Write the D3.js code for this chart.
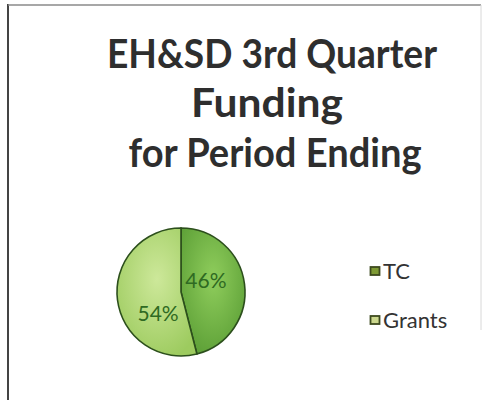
<!DOCTYPE html>
<html>
<head>
<meta charset="utf-8">
<script src="https://cdn.jsdelivr.net/npm/d3@7"></script>
<style>
  html, body { margin: 0; padding: 0; background: #ffffff; }
  svg { display: block; }
</style>
</head>
<body>
<script>
// Funding split for the quarter
const categories = ["TC", "Grants"];
const values = [46, 54];
const valueLabels = ["46%", "54%"];
const titleLines = ["EH&SD 3rd Quarter", "Funding", "for Period Ending"];

const W = 483, H = 400;
const svg = d3.select("body").append("svg").attr("width", W).attr("height", H);

const defs = svg.append("defs");
const fills = [
  { id: "gTC", inner: "#8fcd5c", outer: "#5c9f36" },
  { id: "gGr", inner: "#cde89a", outer: "#9dcb5f" }
];
fills.forEach(f => {
  const g = defs.append("radialGradient").attr("id", f.id)
    .attr("cx", "50%").attr("cy", "40%").attr("r", "65%");
  g.append("stop").attr("offset", "0%").attr("stop-color", f.inner);
  g.append("stop").attr("offset", "100%").attr("stop-color", f.outer);
});
const color = d3.scaleOrdinal().domain(categories).range(["url(#gTC)", "url(#gGr)"]);
const swatch = d3.scaleOrdinal().domain(categories).range(["#7e9a34", "#ccd88e"]);

// chart frame
svg.append("line").attr("x1", 8).attr("x2", 8).attr("y1", 4).attr("y2", H)
  .attr("stroke", "#444").attr("stroke-width", 2);
svg.append("line").attr("x1", 8).attr("x2", 481).attr("y1", 5).attr("y2", 5)
  .attr("stroke", "#8a8a8a").attr("stroke-width", 1.5);
svg.append("line").attr("x1", 481).attr("x2", 481).attr("y1", 5).attr("y2", 330)
  .attr("stroke", "#d8d8d8").attr("stroke-width", 1);

// title
const titleFont = "Lato, 'Open Sans', sans-serif";
const titleWidths = [330, 152, 293];
const titleY = [68, 117, 167];
const titleX = [272, 267, 275];
titleLines.forEach((t, i) => {
  svg.append("text")
    .attr("x", titleX[i]).attr("y", titleY[i])
    .attr("text-anchor", "middle")
    .attr("font-family", titleFont).attr("font-weight", "bold")
    .attr("font-size", 41)
    .attr("fill", "#2e2e2e")
    .attr("textLength", titleWidths[i]).attr("lengthAdjust", "spacingAndGlyphs")
    .text(t);
});

// pie
const cx = 181, cy = 292, r = 64;
const pie = d3.pie().sort(null).value(d => d.v);
const data = pie(categories.map((c, i) => ({ c, v: values[i], label: valueLabels[i] })));
const arc = d3.arc().innerRadius(0).outerRadius(r);
const labelArc = d3.arc().innerRadius(r * 0.55).outerRadius(r * 0.55);

const g = svg.append("g").attr("transform", `translate(${cx},${cy})`);
g.selectAll("path").data(data).join("path")
  .attr("d", arc)
  .attr("fill", d => color(d.data.c))
  .attr("stroke", "#2c4f1c").attr("stroke-width", 1.6);

const labelOffset = [[-10, -8], [12, 16]];
g.selectAll("text.lbl").data(data).join("text")
  .attr("class", "lbl")
  .attr("x", (d, i) => labelArc.centroid(d)[0] + labelOffset[i][0])
  .attr("y", (d, i) => labelArc.centroid(d)[1] + labelOffset[i][1])
  .attr("text-anchor", "middle").attr("dominant-baseline", "central")
  .attr("font-family", titleFont).attr("font-size", 21)
  .attr("fill", "#2f6a22")
  .text(d => d.data.label);

// legend
const legendY = d3.scalePoint().domain(categories).range([271, 320]);
const lg = svg.append("g");
categories.forEach(c => {
  const y = legendY(c);
  lg.append("rect").attr("x", 370.5).attr("y", y - 4).attr("width", 9).attr("height", 8)
    .attr("fill", swatch(c)).attr("stroke", "#3d4a1e").attr("stroke-width", 1.8);
  lg.append("text").attr("x", 383).attr("y", y + 8)
    .attr("font-family", titleFont).attr("font-size", 22)
    .attr("fill", "#333")
    .text(c);
});
</script>
</body>
</html>
